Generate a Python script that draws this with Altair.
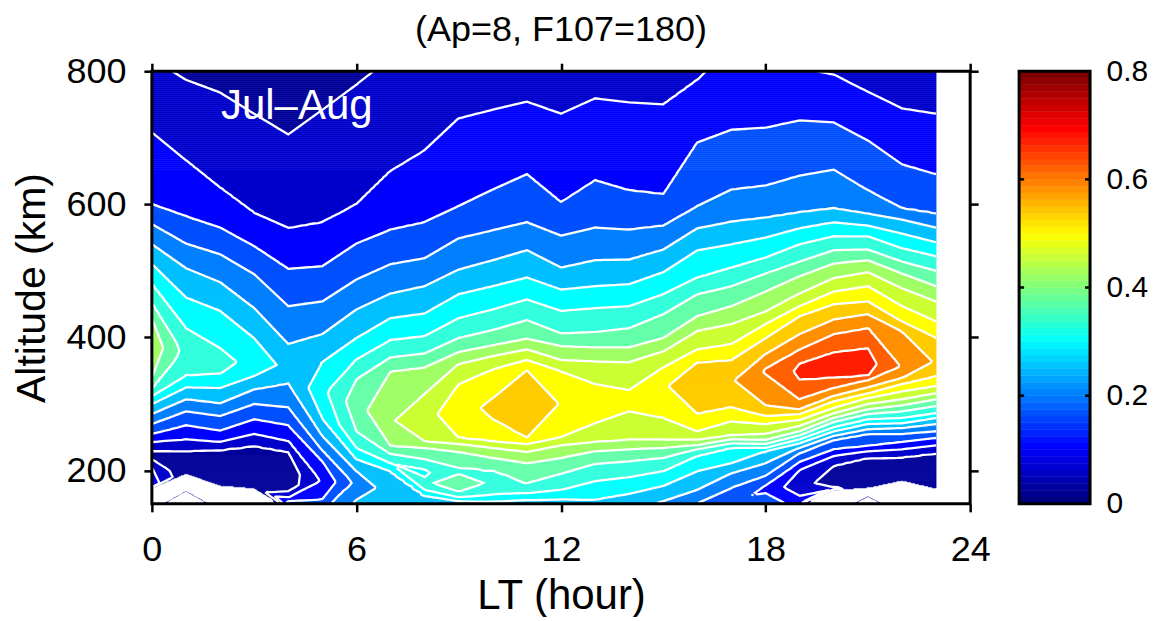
import altair as alt
import numpy as np
import pandas as pd

alt.data_transformers.disable_max_rows()

FONT = "Liberation Sans"
BAND_COLORS = ["#000099", "#0000cc", "#0000ff", "#0050ff", "#0080ff", "#00c0ff", "#00ffff", "#33ffdd",
               "#66ffaa", "#a0ff66", "#ccff33", "#ffff00", "#ffcc00", "#ff9000", "#ff6000", "#ff2000"]
HOURS = list(range(24))

# Altitude (km) and contour-step value read down each local-time column.
LT00 = [(800,1.15),(708,2),(600,3),(570,4),(540,5),(510,6),(480,7),(451,8),(429,9),(387,9.7),(339,9),(324,8),(312,7),(300,6),(285,5),(270,4),(255,3),(243,2),(229,1),(223,.6),(217,1),(205,2),(175,2.6),(172,-4),(150,-6)]
LT01 = [(800,.9),(787,1),(666,2),(582,3),(541,4),(504,5),(460,6),(414,7),(379,7.6),(343,7),(325,6),(307,5),(289,4),(268,3),(247,2),(229,1),(214,.5),(199,.3),(196,.05),(190,-3),(175,-4),(150,10.5)]
LT02 = [(800,.75),(768,1),(625,2),(565,3),(525,4),(483,5),(440,6),(384,7),(364,7.3),(345,7),(324,6),(301,5),(282,4),(260,3),(243,2),(231,1),(207,.5),(192,.4),(178,.05),(169,-4),(150,-6)]
LT03 = [(800,.6),(736,1),(587,2),(537,3),(495,4),(444,5),(399,6),(362,6.7),(342,6),(322,5),(300,4),(277,3),(255,2),(237,1),(199,.4),(174,.1),(166,-4),(150,-6)]
LT04 = [(800,.45),(705,1),(564,2),(503,3),(447,4),(390,5),(357,5.65),(331,5),(295,4),(268,3),(244,2),(228,1),(199,.4),(175,.5),(169,1),(160,2),(154,3),(150,3.5)]
LT05 = [(800,.6),(742,1),(573,2),(507,3),(454,4),(405,5),(363,6),(320,6.7),(278,6),(252,5),(230,4),(214,3),(184,2.15),(157,3),(150,3.6)]
LT06 = [(800,.8),(780,1),(600,2),(541,3),(487,4),(442,5),(399,6),(367,7),(337,8),(297,8.6),(259,8),(234,7),(217,6),(199,5),(181,4.3),(156,5),(150,5.2)]
LT07 = [(800,1.2),(650,2),(562,3),(510,4),(466,5),(429,6),(396,7),(370,8),(349,9),(274,9.9),(237,9),(225,8),(211,7),(199,6),(169,5.5),(150,5.3)]
LT08 = [(800,1.5),(681,2),(573,3),(519,4),(477,5),(436,6),(402,7),(376,8),(355,9),(315,10),(282,10.7),(244,10),(234,9),(217,8),(202,7),(196,6.85),(190,7),(181,7.9),(171,7),(162,6),(150,5.2)]
LT09 = [(800,1.6),(729,2),(597,3),(549,4),(502,5),(465,6),(429,7),(399,8),(378,9),(360,10),(330,11),(289,11.5),(249,11),(240,10),(228,9),(204,8),(199,7.8),(195,8),(181,8.3),(168,8),(160,7),(154,6),(150,5.5)]
LT10 = [(800,1.7),(742,2),(622,3),(561,4),(516,5),(477,6),(442,7),(411,8),(388,9),(372,10),(352,11),(309,12),(297,12.3),(277,12),(244,11),(234,10),(219,9),(201,8),(181,7.9),(164,7),(153,6),(150,5.6)]
LT11 = [(800,1.75),(754,2),(645,3),(573,4),(531,5),(490,6),(457,7),(426,8),(398,9),(382,10),(366,11),(351,12),(304,12.7),(249,12),(240,11),(228,10),(211,9),(181,8),(166,7),(156,6),(150,5.6)]
LT12 = [(800,1.65),(736,2),(603,3),(553,4),(505,5),(472,6),(440,7),(406,8),(387,9),(366,10),(349,11),(300,11.95),(250,11),(238,10),(219,9),(195,8),(171,7),(157,6),(150,5.7)]
LT13 = [(800,1.8),(759,2),(636,3),(565,4),(516,5),(477,6),(444,7),(408,8),(385,9),(364,10),(330,11),(304,11.5),(271,11),(243,10),(229,9),(210,8),(184,7),(156,6),(150,5.7)]
LT14 = [(800,1.75),(753,2),(621,3),(562,4),(517,5),(480,6),(447,7),(414,8),(385,9),(363,10),(321,11),(304,11.4),(289,11),(246,10),(232,9),(214,8),(190,7),(165,6),(150,5.5)]
LT15 = [(800,1.75),(750,2),(615,3),(568,4),(532,5),(498,6),(465,7),(435,8),(399,9),(379,10),(355,11),(327,11.9),(279,11),(246,10),(234,9),(219,8),(199,7),(177,6),(154,5),(150,4.8)]
LT16 = [(800,1.95),(787,2),(693,3),(597,4),(564,5),(531,6),(490,7),(465,8),(432,9),(410,10),(382,11),(363,12),(327,12.6),(285,12),(259,11),(246,10),(238,9),(232,8),(222,7),(199,6),(171,5),(151,4),(150,3.95)]
LT17 = [(800,2.15),(712,3),(622,4),(574,5),(540,6),(505,7),(477,8),(447,9),(420,10),(390,11),(366,12),(334,12.9),(295,12),(274,11),(253,10),(247,9),(241,8),(234,7),(211,6),(196,5),(174,4),(150,3.3)]
LT18 = [(800,2.3),(715,3),(628,4),(580,5),(550,6),(520,7),(496,8),(469,9),(439,10),(420,11),(399,12),(375,13),(354,14),(349,14.1),(345,14),(298,13),(282,12),(270,11),(255,10),(246,9),(240,8),(234,7),(229,6),(211,5),(192,4),(178,3),(172,2.8),(166,3),(150,3.6)]
LT19 = [(800,2.1),(726,3),(643,4),(588,5),(564,6),(540,7),(514,8),(492,9),(466,10),(447,11),(432,12),(405,13),(382,14),(361,15),(349,15.2),(336,15),(307,14),(292,13),(285,12),(276,11),(267,10),(259,9),(253,8),(247,7),(241,6),(234,5),(226,4),(213,3),(201,2),(177,1.3),(162,2),(150,2.6)]
LT20 = [(800,1.9),(795,2),(723,3),(652,4),(594,5),(573,6),(552,7),(531,8),(511,9),(489,10),(469,11),(450,12),(427,13),(405,14),(378,15),(357,15.5),(339,15),(324,14),(312,13),(304,12),(294,11),(286,10),(279,9),(273,8),(265,7),(259,6),(252,5),(246,4),(232,3),(222,2),(207,1),(187,.6),(175,1),(172,2),(169,-5),(150,-8)]
LT21 = [(800,1.7),(769,2),(696,3),(621,4),(586,5),(568,6),(552,7),(532,8),(516,9),(498,10),(477,11),(454,12),(435,13),(414,14),(384,15),(361,15.4),(342,15),(336,14),(325,13),(316,12),(309,11),(300,10),(292,9),(285,8),(277,7),(270,6),(262,5),(255,4),(237,3),(229,2),(219,1),(192,.5),(175,.2),(171,-6),(150,5.5)]
LT22 = [(800,1.5),(744,2),(660,3),(594,4),(577,5),(556,6),(534,7),(514,8),(496,9),(474,10),(447,11),(424,12),(409,13),(357,13.9),(339,13),(330,12),(319,11),(307,10),(298,9),(289,8),(279,7),(271,6),(264,5),(255,4),(243,3),(232,2),(220,1),(199,.5),(186,.2),(178,-3),(150,-8)]
LT23 = [(800,1.45),(736,2),(645,3),(586,4),(565,5),(543,6),(522,7),(500,8),(477,9),(454,10),(424,11),(399,12),(364,12.9),(342,12),(327,11),(316,10),(307,9),(297,8),(286,7),(279,6),(270,5),(259,4),(249,3),(238,2),(226,1),(199,.5),(174,.2),(171,-6),(150,-8)]
COLUMNS = [LT00,LT01,LT02,LT03,LT04,LT05,LT06,LT07,LT08,LT09,LT10,LT11,LT12,LT13,LT14,LT15,LT16,LT17,LT18,LT19,LT20,LT21,LT22,LT23]

def stitch(A, B):
    """Pair the read points of two neighbouring columns, same level with same level."""
    n, m = len(A), len(B)
    cost = np.array([[(a[1] - b[1]) ** 2 + ((a[0] - b[0]) / 40) ** 2 for b in B] for a in A])
    best = np.full((n, m), np.inf)
    prev = {}
    best[0, 0] = cost[0, 0]
    for i in range(n):
        for j in range(m):
            if i and best[i - 1, j] + cost[i, j] < best[i, j]:
                best[i, j] = best[i - 1, j] + cost[i, j]
                prev[i, j] = (i - 1, j)
            if j and best[i, j - 1] + cost[i, j] < best[i, j]:
                best[i, j] = best[i, j - 1] + cost[i, j]
                prev[i, j] = (i, j - 1)
    path = [(n - 1, m - 1)]
    while path[-1] != (0, 0):
        path.append(prev[path[-1]])
    path.reverse()
    return np.array([[A[i][0], A[i][1], B[j][0], B[j][1]] for i, j in path], float)

STRIPS = [stitch(COLUMNS[h], COLUMNS[h + 1]) for h in range(23)]

def field(lts, alts):
    out = np.zeros((len(alts), len(lts)))
    for c, lt in enumerate(lts):
        h = min(int(lt), 22)
        t = lt - h
        s = STRIPS[h]
        a = (1 - t) * s[:, 0] + t * s[:, 2]
        k = (1 - t) * s[:, 1] + t * s[:, 3]
        a_r, k_r = a[::-1], k[::-1]
        keep = np.concatenate(([True], np.diff(a_r) > 1e-9))
        out[:, c] = np.interp(alts, a_r[keep], k_r[keep])
    return out

# ---- filled bands, one rect per run of equal band
PW, PH = 819, 433
row_edges = np.concatenate((np.arange(0, 370, 2), np.arange(370, PH + 1, 1)))
cols = np.arange(0, round(23 * PW / 24) + 1)
lt_edges = np.minimum(cols * 24 / PW, 23)
alt_top = 800 - row_edges[:-1] * 650 / PH
alt_bot = 800 - row_edges[1:] * 650 / PH
Z = field((lt_edges[:-1] + lt_edges[1:]) / 2, (alt_top + alt_bot) / 2)
recs = []
for j in range(Z.shape[0]):
    bands = np.floor(Z[j]).astype(int)
    start = 0
    for i in range(1, len(bands) + 1):
        if i == len(bands) or bands[i] != bands[start]:
            b = bands[start]
            if b >= 0:
                recs.append((lt_edges[start], lt_edges[i], alt_top[j], max(alt_bot[j], 150), BAND_COLORS[min(b, 15)]))
            start = i
fill_df = pd.DataFrame(recs, columns=["x", "x2", "y", "y2", "c"])

# ---- contour lines
def trace(xs, ys, F, level):
    graph, pts = {}, {}
    def edge(key):
        kind, j, i = key
        if key not in pts:
            if kind == "h":
                t = (level - F[j, i]) / (F[j, i + 1] - F[j, i])
                pts[key] = (xs[i] + t * (xs[i + 1] - xs[i]), ys[j])
            else:
                t = (level - F[j, i]) / (F[j + 1, i] - F[j, i])
                pts[key] = (xs[i], ys[j] + t * (ys[j + 1] - ys[j]))
        return key
    def link(p, q):
        graph.setdefault(p, []).append(q)
        graph.setdefault(q, []).append(p)
    for j in range(F.shape[0] - 1):
        for i in range(F.shape[1] - 1):
            a, b, c, d = F[j, i], F[j, i + 1], F[j + 1, i + 1], F[j + 1, i]
            cr = []
            if (a >= level) != (b >= level): cr.append(edge(("h", j, i)))
            if (b >= level) != (c >= level): cr.append(edge(("v", j, i + 1)))
            if (c >= level) != (d >= level): cr.append(edge(("h", j + 1, i)))
            if (d >= level) != (a >= level): cr.append(edge(("v", j, i)))
            if len(cr) == 2:
                link(cr[0], cr[1])
            elif len(cr) == 4:
                if ((a + b + c + d) / 4 >= level) == (a >= level):
                    link(cr[0], cr[1]); link(cr[2], cr[3])
                else:
                    link(cr[0], cr[3]); link(cr[1], cr[2])
    seen, lines = set(), []
    starts = [k for k, v in graph.items() if len(v) == 1] + list(graph)
    for s in starts:
        if s in seen:
            continue
        path, cur = [s], s
        seen.add(s)
        while True:
            nxt = [n for n in graph[cur] if n not in seen]
            if not nxt:
                if len(path) > 2 and s in graph[cur]:
                    path.append(s)
                break
            cur = nxt[0]
            seen.add(cur)
            path.append(cur)
        lines.append([pts[k] for k in path])
    return lines

xs_c = np.arange(0, 23 * 8 + 1) / 8
ys_c = 800 - np.arange(0, PH + 1, 2) * 650 / PH
F = field(xs_c, ys_c)
line_rows = []
sid = 0
for level in range(1, 16):
    for ln in trace(xs_c, ys_c, F, level):
        sid += 1
        for o, (x, y) in enumerate(ln):
            line_rows.append((sid, o, x, y))
line_df = pd.DataFrame(line_rows, columns=["sid", "o", "x", "y"])

XS = alt.Scale(domain=[0, 24], nice=False, zero=False)
YS = alt.Scale(domain=[150, 800], nice=False, zero=False)
X_TICKS = [0, 6, 12, 18, 24]
Y_TICKS = [200, 400, 600, 800]
TICK = dict(tickColor="black", tickWidth=2.5, tickSize=8, domain=False, grid=False)

fills = alt.Chart(fill_df).mark_rect(strokeWidth=0.7).encode(
    x=alt.X("x:Q", scale=XS, title="LT (hour)",
            axis=alt.Axis(values=X_TICKS, labelFont=FONT, labelFontSize=36, labelColor="black", labelPadding=21,
                          titleFont=FONT, titleFontSize=42, titleFontWeight="normal", titleColor="black",
                          titlePadding=8, labelFlush=False, labelOverlap=False, **TICK)),
    x2="x2:Q",
    y=alt.Y("y:Q", scale=YS, title="Altitude (km)",
            axis=alt.Axis(values=Y_TICKS, labelFont=FONT, labelFontSize=36, labelColor="black", labelPadding=18,
                          titleFont=FONT, titleFontSize=41, titleFontWeight="normal", titleColor="black",
                          titlePadding=12, labelFlush=False, labelOverlap=False, **TICK)),
    y2="y2:Q",
    color=alt.Color("c:N", scale=None),
    stroke=alt.Stroke("c:N", scale=None),
)
lines = alt.Chart(line_df).mark_line(color="white", strokeWidth=2.3, strokeJoin="miter", clip=True).encode(
    x=alt.X("x:Q", scale=XS, axis=None),
    y=alt.Y("y:Q", scale=YS, axis=None),
    detail="sid:N",
    order="o:Q",
)
label = alt.Chart(pd.DataFrame({"x": [4.25], "y": [747], "t": ["Jul\u2013Aug"]})).mark_text(
    font=FONT, fontSize=42, color="white", align="center", baseline="middle"
).encode(
    x=alt.X("x:Q", scale=XS, axis=None),
    y=alt.Y("y:Q", scale=YS, axis=None),
    text="t:N",
)
frame_df = pd.DataFrame({"x": [0], "x2": [24], "y": [150], "y2": [800]})
frame = alt.Chart(frame_df).mark_rect(fill="transparent", stroke="black", strokeWidth=3).encode(
    x=alt.X("x:Q", scale=XS, title=None, axis=alt.Axis(orient="top", values=X_TICKS, labels=False, **TICK)),
    x2="x2:Q",
    y=alt.Y("y:Q", scale=YS, title=None, axis=alt.Axis(orient="right", values=Y_TICKS, labels=False, **TICK)),
    y2="y2:Q",
)
main = alt.layer(fills, lines, label, frame).resolve_axis(x="independent", y="independent").properties(
    width=PW, height=PH,
    title=alt.TitleParams("(Ap=8, F107=180)", font=FONT, fontSize=36, fontWeight="normal", color="black", offset=4, anchor="middle"),
)

# ---- colour bar
N = 64
def jet(t):
    r = np.clip(np.minimum(4 * t - 1.5, -4 * t + 4.5), 0, 1)
    g = np.clip(np.minimum(4 * t - 0.5, -4 * t + 3.5), 0, 1)
    b = np.clip(np.minimum(4 * t + 0.5, -4 * t + 2.5), 0, 1)
    return "#%02x%02x%02x" % (int(r * 255), int(g * 255), int(b * 255))
cb_df = pd.DataFrame({"v": np.arange(N) * 0.8 / N, "v2": (np.arange(N) + 1) * 0.8 / N,
                      "c": [jet(i / (N - 1)) for i in range(N)], "x": [0] * N, "x2": [1] * N})
CS = alt.Scale(domain=[0, 0.8], nice=False, zero=False)
BX = alt.Scale(domain=[0, 1], nice=False, zero=False)
bar = alt.Chart(cb_df).mark_rect(strokeWidth=0.5).encode(
    x=alt.X("x:Q", scale=BX, axis=None), x2="x2:Q",
    y=alt.Y("v:Q", scale=CS, title=None,
            axis=alt.Axis(orient="right", values=[0, 0.2, 0.4, 0.6, 0.8], format="~g", domain=False, grid=False, ticks=False,
                          labelFont=FONT, labelFontSize=30, labelColor="black", labelPadding=16, labelFlush=False, labelOverlap=False)),
    y2="v2:Q",
    color=alt.Color("c:N", scale=None), stroke=alt.Stroke("c:N", scale=None),
)
cb_ticks = pd.DataFrame({"v": [0.2, 0.4, 0.6]})
t_left = alt.Chart(cb_ticks).mark_rule(color="black", strokeWidth=2.5).encode(
    x=alt.value(0), x2=alt.value(5), y=alt.Y("v:Q", scale=CS, axis=None))
t_right = alt.Chart(cb_ticks).mark_rule(color="black", strokeWidth=2.5).encode(
    x=alt.value(66), x2=alt.value(71), y=alt.Y("v:Q", scale=CS, axis=None))
bar_frame = alt.Chart(pd.DataFrame({"x": [0], "x2": [1], "y": [0], "y2": [0.8]})).mark_rect(
    fill="transparent", stroke="black", strokeWidth=3).encode(
    x=alt.X("x:Q", scale=BX, axis=None), x2="x2:Q",
    y=alt.Y("y:Q", scale=CS, axis=None), y2="y2:Q")
cbar = alt.layer(bar, t_left, t_right, bar_frame).resolve_axis(y="independent").properties(width=71, height=PH)

chart = alt.hconcat(main, cbar, spacing=49, bounds="flush").configure_view(stroke=None).properties(
    padding={"left": 3, "top": 4, "right": 0, "bottom": 0}, background="white")
chart.save("out.html", embed_options={"renderer": "svg", "actions": False})
